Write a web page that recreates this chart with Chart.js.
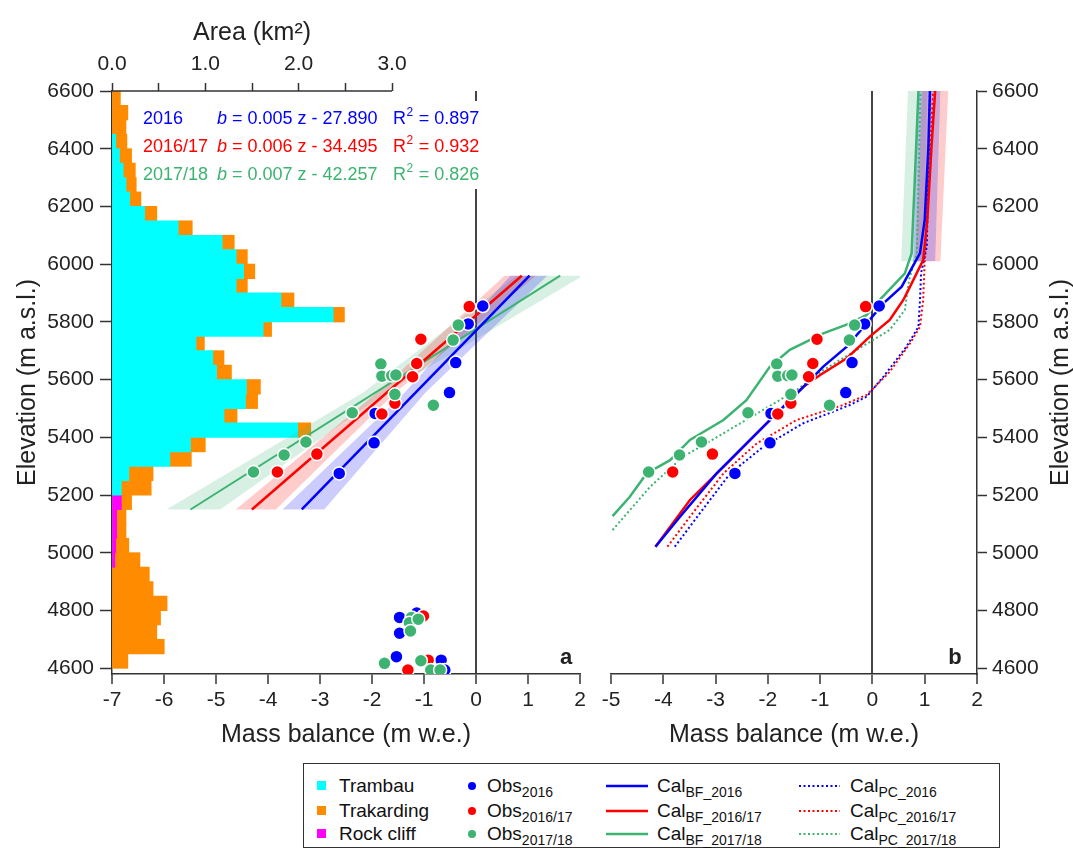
<!DOCTYPE html>
<html>
<head>
<meta charset="utf-8">
<title>Mass balance profiles</title>
<script src="https://cdn.jsdelivr.net/npm/chart.js@4.4.1/dist/chart.umd.min.js"></script>
<style>
  body { margin: 0; background: #fff; font-family: "Liberation Sans", Arial, sans-serif; }
  #wrap { position: relative; width: 1073px; height: 850px; overflow: hidden; background: #fff; }
  #panelA { position: absolute; left: 0; top: 0; }
  #panelB { position: absolute; left: 560px; top: 0; }
  #legend { position: absolute; left: 303px; top: 763px; width: 697px; height: 85px; box-sizing: border-box;
            border: 1.5px solid #333; font-size: 19px; color: #111; }
  #legend .item { position: absolute; white-space: nowrap; line-height: 22px; }
  #legend sub { font-size: 14px; vertical-align: -5px; line-height: 0; }
  #legend .mk { position: absolute; }
</style>
</head>
<body>
<div id="wrap">
  <canvas id="panelA" width="600" height="760"></canvas>
  <canvas id="panelB" width="513" height="760"></canvas>
  <div id="legend"></div>
</div>
<script>
// ---------- data ----------
const elevTicks = [4600, 4800, 5000, 5200, 5400, 5600, 5800, 6000, 6200, 6400, 6600];
const areaTicks = [0, 0.5, 1, 1.5, 2, 2.5, 3];

// 50 m elevation bins (centres), area in km2
const binMid = [6575, 6525, 6475, 6425, 6375, 6325, 6275, 6225, 6175, 6125,
                6075, 6025, 5975, 5925, 5875, 5825, 5775, 5725, 5675, 5625,
                5575, 5525, 5475, 5425, 5375, 5325, 5275, 5225, 5175, 5125,
                5075, 5025, 4975, 4925, 4875, 4825, 4775, 4725, 4675, 4625];
const trambau = [0, 0, 0, 0.04, 0.08, 0.12, 0.15, 0.19, 0.35, 0.71,
                 1.18, 1.33, 1.41, 1.33, 1.81, 2.37, 1.62, 0.90, 1.08, 1.12,
                 1.44, 1.43, 1.20, 1.99, 0.84, 0.62, 0.18, 0.10, 0, 0,
                 0, 0, 0, 0, 0, 0, 0, 0, 0, 0];
const rockCliff = [0, 0, 0, 0, 0, 0, 0, 0, 0, 0,
                   0, 0, 0, 0, 0, 0, 0, 0, 0, 0,
                   0, 0, 0, 0, 0, 0, 0, 0, 0.10, 0.05,
                   0.05, 0.04, 0.03, 0, 0, 0, 0, 0, 0, 0];
const trakarding = [0.09, 0.17, 0.15, 0.12, 0.13, 0.13, 0.11, 0.12, 0.13, 0.15,
                    0.13, 0.12, 0.12, 0.12, 0.14, 0.12, 0.09, 0.09, 0.12, 0.16,
                    0.15, 0.13, 0.14, 0.14, 0.16, 0.23, 0.26, 0.32, 0.11, 0.10,
                    0.10, 0.14, 0.27, 0.40, 0.44, 0.59, 0.52, 0.48, 0.56, 0.17];

// stake observations (mass balance, elevation)
const obsB2016 = [0.13, -0.15, -0.39, -0.51, -1.94, -1.96, -2.63, -1.47, -1.47, -1.14, -1.53, -0.67, -0.60];
const obsZ2016 = [5855, 5793, 5659, 5555, 5483, 5381, 5275, 4776, 4721, 4791, 4640, 4628, 4594];
const obsB201617 = [-0.13, -1.06, -1.14, -1.22, -1.56, -1.81, -3.06, -3.82, -1.01, -0.92, -1.31];
const obsZ201617 = [5853, 5740, 5656, 5610, 5518, 5481, 5342, 5280, 4781, 4628, 4594];
const obsB201718 = [-0.34, -0.44, -1.83, -1.81, -1.62, -1.54, -1.56, -0.82, -2.38, -3.27, -3.69, -4.28,
                    -1.24, -1.28, -1.11, -1.26, -1.76, -1.06, -0.87, -0.69];
const obsZ201718 = [5789, 5737, 5654, 5612, 5614, 5616, 5549, 5511, 5485, 5384, 5339, 5280,
                    4776, 4758, 4770, 4729, 4617, 4626, 4594, 4594];

// linear fits (panel a)
const fitYears = ['2016', '2016/17', '2017/18'];
const fitEq = ['0.005 z - 27.890', '0.006 z - 34.495', '0.007 z - 42.257'];
const fitR2 = ['0.897', '0.932', '0.826'];
const regZ = [5150, 5960];
const regB2016 = [-3.35, 1.03];
const regB201617 = [-4.31, 0.88];
const regB201718 = [-5.49, 1.62];
const bandZa = [5150, 5555, 5960];
const bandLo2016 = [-3.72, -1.37, 0.66], bandHi2016 = [-2.92, -0.97, 1.37];
const bandLo201617 = [-4.62, -1.90, 0.55], bandHi201617 = [-3.85, -1.55, 1.15];
const bandLo201718 = [-5.95, -2.17, 0.78], bandHi201718 = [-4.92, -1.73, 2.06];

// calibrated profiles (panel b)
const bfZ2016 = [5021, 5125, 5275, 5391, 5483, 5575, 5645, 5714, 5795, 5864, 5922, 6038, 6153, 6407, 6600];
const bfB2016 = [-4.15, -3.68, -2.98, -2.34, -1.83, -1.32, -0.94, -0.49, -0.11, 0.21, 0.56, 0.91, 1.00, 1.07, 1.10];
const bfZ201617 = [5021, 5183, 5321, 5449, 5575, 5616, 5674, 5749, 5807, 5841, 5876, 5922, 6014, 6153, 6407, 6600];
const bfB201617 = [-4.15, -3.49, -2.72, -2.02, -1.32, -1.00, -0.49, -0.05, 0.33, 0.46, 0.59, 0.72, 0.97, 1.05, 1.13, 1.20];
const bfZ201718 = [5127, 5194, 5275, 5321, 5391, 5460, 5529, 5645, 5703, 5760, 5795, 5824, 5876, 5968, 6038, 6292, 6600];
const bfB201718 = [-4.97, -4.64, -4.32, -3.87, -3.49, -2.85, -2.41, -1.96, -1.58, -0.94, -0.43, -0.11, 0.14, 0.62, 0.75, 0.81, 0.88];
const pcZ2016 = [5021, 5137, 5275, 5367, 5449, 5512, 5541, 5610, 5714, 5783, 5876, 5969, 6060, 6600];
const pcB2016 = [-3.78, -3.30, -2.72, -2.09, -1.32, -0.43, -0.11, 0.21, 0.65, 0.88, 0.91, 0.93, 1.04, 1.10];
const pcZ201617 = [5021, 5125, 5275, 5379, 5460, 5512, 5547, 5627, 5726, 5783, 5876, 6014, 6600];
const pcB201617 = [-3.92, -3.49, -2.85, -2.21, -1.45, -0.56, -0.11, 0.33, 0.72, 0.91, 0.97, 1.00, 1.16];
const pcZ201718 = [5079, 5229, 5333, 5414, 5495, 5564, 5633, 5703, 5772, 5841, 5945, 6040, 6600];
const pcB201718 = [-4.97, -4.25, -3.62, -2.85, -2.09, -1.45, -0.94, -0.30, 0.33, 0.62, 0.70, 0.85, 0.92];
const bandZb = [6010, 6600];
const bandBLo2016 = [0.78, 0.88], bandBHi2016 = [1.20, 1.30];
const bandBLo201617 = [0.82, 0.95], bandBHi201617 = [1.30, 1.45];
const bandBLo201718 = [0.55, 0.68], bandBHi201718 = [0.97, 1.05];

// ---------- styling ----------
const FONT = '"Liberation Sans", Arial, sans-serif';
const BLUE = '#0000FF', RED = '#FF0000', GREEN = '#3CB371';
const yearColors = [BLUE, RED, GREEN];
const histLabels = ['Trambau', 'Trakarding', 'Rock cliff'];
const histColors = ['#00FFFF', '#FF8C00', '#FF00FF'];

Chart.defaults.font.family = FONT;
Chart.defaults.color = '#222';

function pairs(bs, zs) {
  return zs.map((z, i) => ({ x: bs[i], y: z }));
}
function shape(zs, lo, hi) {
  const pts = zs.map((z, i) => ({ x: lo[i], y: z }));
  for (let i = zs.length - 1; i >= 0; i--) pts.push({ x: hi[i], y: zs[i] });
  return pts;
}
function obsSet(label, color, bs, zs, zMin) {
  return {
    type: 'scatter', label: label,
    data: pairs(bs, zs).filter(p => p.y > zMin),
    pointBackgroundColor: color, pointBorderColor: '#fff',
    pointRadius: 6.5, pointBorderWidth: 1.5
  };
}
function lineSet(label, color, data, dash, width) {
  return {
    type: 'line', label: label, data: data,
    borderColor: color, borderWidth: width || 2.5, borderDash: dash || [],
    pointRadius: 0, fill: false, tension: 0
  };
}
function bandSet(color, data) {
  return {
    type: 'line', data: data, fill: 'shape', backgroundColor: color,
    borderColor: 'rgba(0,0,0,0)', borderWidth: 0, pointRadius: 0, tension: 0
  };
}
// one 50 m bin is 583 px / 2020 m * 50 m high on the elevation axis
const BIN_PX = 583 / 2020 * 50;
function histSet(i, values) {
  return {
    type: 'bar', label: histLabels[i], indexAxis: 'y', xAxisID: 'xa', yAxisID: 'y', stack: 'hist',
    data: binMid.map((z, k) => ({ x: values[k], y: z })).filter(p => p.x > 0),
    backgroundColor: histColors[i], borderWidth: 0,
    grouped: false, barThickness: BIN_PX + 0.2
  };
}

function elevAxis(position, width, withTitle) {
  return {
    type: 'linear', position: position, min: 4580, max: 6600, offset: false,
    afterBuildTicks: s => { s.ticks = elevTicks.map(v => ({ value: v })); },
    ticks: { callback: v => String(v), font: { size: 21 }, padding: position === 'left' ? 6 : 5, autoSkip: false, color: '#222' },
    grid: { drawOnChartArea: false, offset: false, tickColor: '#333', tickLength: position === 'left' ? 12 : 10, tickWidth: 1.5 },
    border: { display: true, color: '#333', width: 1.5 },
    title: { display: withTitle, text: 'Elevation (m a.s.l.)', font: { size: 25 }, color: '#222', padding: { top: 13, bottom: 0 } },
    afterFit: s => { s.width = width; }
  };
}
function massAxis(min, max) {
  return {
    type: 'linear', position: 'bottom', min: min, max: max,
    ticks: { stepSize: 1, font: { size: 21 }, padding: 4, color: '#222', maxRotation: 0, autoSkip: false },
    grid: {
      color: c => (c.tick && c.tick.value === 0) ? '#444' : 'rgba(0,0,0,0)',
      lineWidth: 2, tickColor: '#333', tickLength: 10, tickWidth: 1.5
    },
    border: { display: true, color: '#333', width: 1.5 },
    title: { display: true, text: 'Mass balance (m w.e.)', font: { size: 25 }, color: '#222', padding: { top: 0, bottom: 10 } },
    afterFit: s => { s.height = 86; }
  };
}

// ---------- panel a ----------
const panelAExtras = {
  id: 'panelAExtras',
  afterDatasetsDraw(chart) {
    const ctx = chart.ctx;
    ctx.save();
    ctx.fillStyle = '#fff';
    ctx.fillRect(138, 101, 344, 88);
    ctx.textBaseline = 'middle';
    ctx.textAlign = 'left';
    fitYears.forEach((yr, i) => {
      const y = 119 + i * 28;
      ctx.fillStyle = yearColors[i];
      ctx.font = '18px ' + FONT;
      ctx.fillText(yr, 143, y);
      ctx.font = 'italic 18px ' + FONT;
      ctx.fillText('b', 217, y);
      let w = ctx.measureText('b').width;
      ctx.font = '18px ' + FONT;
      ctx.fillText(' = ' + fitEq[i], 217 + w, y);
      ctx.fillText('R', 393, y);
      w = ctx.measureText('R').width;
      ctx.font = '12px ' + FONT;
      ctx.fillText('2', 393 + w + 0.5, y - 6);
      const w2 = ctx.measureText('2').width;
      ctx.font = '18px ' + FONT;
      ctx.fillText(' = ' + fitR2[i], 393 + w + w2 + 1, y);
    });
    ctx.restore();
  },
  afterDraw(chart) {
    const ctx = chart.ctx;
    const xa = chart.scales.xa;
    const top = chart.chartArea.top;
    ctx.save();
    ctx.strokeStyle = '#333';
    ctx.lineWidth = 1.5;
    ctx.beginPath();
    ctx.moveTo(xa.getPixelForValue(0), top);
    ctx.lineTo(xa.getPixelForValue(3), top);
    ctx.stroke();
    ctx.fillStyle = '#222';
    ctx.textAlign = 'center';
    ctx.textBaseline = 'middle';
    ctx.font = '25px ' + FONT;
    ctx.fillText('Area (km²)', xa.getPixelForValue(1.5), 33);
    ctx.font = 'bold 22px ' + FONT;
    ctx.fillText('a', chart.chartArea.right - 14, 658);
    ctx.restore();
  }
};

new Chart(document.getElementById('panelA'), {
  type: 'scatter',
  data: {
    datasets: [
      obsSet('Obs 2017/18', GREEN, obsB201718, obsZ201718, 0),
      obsSet('Obs 2016/17', RED, obsB201617, obsZ201617, 0),
      obsSet('Obs 2016', BLUE, obsB2016, obsZ2016, 0),
      lineSet('Fit 2016', BLUE, pairs(regB2016, regZ)),
      lineSet('Fit 2016/17', RED, pairs(regB201617, regZ)),
      lineSet('Fit 2017/18', GREEN, pairs(regB201718, regZ), null, 2),
      bandSet('rgba(0,0,255,0.2)', shape(bandZa, bandLo2016, bandHi2016)),
      bandSet('rgba(255,0,0,0.2)', shape(bandZa, bandLo201617, bandHi201617)),
      bandSet('rgba(60,179,113,0.2)', shape(bandZa, bandLo201718, bandHi201718)),
      histSet(0, trambau),
      histSet(2, rockCliff),
      histSet(1, trakarding)
    ]
  },
  options: {
    responsive: false,
    animation: false,
    devicePixelRatio: 1,
    events: [],
    layout: { padding: { left: 0, right: 20, top: 0, bottom: 0 } },
    plugins: { legend: { display: false }, tooltip: { enabled: false } },
    scales: {
      x: massAxis(-7, 2),
      xa: {
        type: 'linear', axis: 'x', position: 'top', min: 0, max: 5.014,
        afterBuildTicks: s => { s.ticks = areaTicks.map(v => ({ value: v })); },
        ticks: { callback: v => Number.isInteger(v) ? v.toFixed(1) : '', font: { size: 21 }, padding: 6, autoSkip: false, maxRotation: 0, color: '#222' },
        grid: { drawOnChartArea: false, tickColor: '#333', tickLength: 8, tickWidth: 1.5 },
        border: { display: false },
        afterFit: s => { s.height = 91; }
      },
      y: elevAxis('left', 112, true)
    }
  },
  plugins: [panelAExtras]
});

// ---------- panel b ----------
const panelBExtras = {
  id: 'panelBExtras',
  afterDraw(chart) {
    const ctx = chart.ctx;
    const area = chart.chartArea;
    ctx.save();
    ctx.fillStyle = '#222';
    ctx.textAlign = 'center';
    ctx.textBaseline = 'middle';
    ctx.font = 'bold 22px ' + FONT;
    ctx.fillText('b', area.right - 22, 658);
    ctx.translate(501, (area.top + area.bottom) / 2);
    ctx.rotate(-Math.PI / 2);
    ctx.font = '25px ' + FONT;
    ctx.fillText('Elevation (m a.s.l.)', 0, 0);
    ctx.restore();
  }
};

new Chart(document.getElementById('panelB'), {
  type: 'scatter',
  data: {
    datasets: [
      obsSet('Obs 2017/18', GREEN, obsB201718, obsZ201718, 5200),
      obsSet('Obs 2016/17', RED, obsB201617, obsZ201617, 5200),
      obsSet('Obs 2016', BLUE, obsB2016, obsZ2016, 5200),
      lineSet('Cal BF 2016', BLUE, pairs(bfB2016, bfZ2016)),
      lineSet('Cal BF 2016/17', RED, pairs(bfB201617, bfZ201617)),
      lineSet('Cal BF 2017/18', GREEN, pairs(bfB201718, bfZ201718)),
      lineSet('Cal PC 2016', BLUE, pairs(pcB2016, pcZ2016), [2, 2.5], 2),
      lineSet('Cal PC 2016/17', RED, pairs(pcB201617, pcZ201617), [2, 2.5], 2),
      lineSet('Cal PC 2017/18', GREEN, pairs(pcB201718, pcZ201718), [2, 2.5], 2),
      bandSet('rgba(0,0,255,0.2)', shape(bandZb, bandBLo2016, bandBHi2016)),
      bandSet('rgba(255,0,0,0.2)', shape(bandZb, bandBLo201617, bandBHi201617)),
      bandSet('rgba(60,179,113,0.2)', shape(bandZb, bandBLo201718, bandBHi201718))
    ]
  },
  options: {
    responsive: false,
    animation: false,
    devicePixelRatio: 1,
    events: [],
    layout: { padding: { left: 51, right: 0, top: 91, bottom: 0 } },
    plugins: { legend: { display: false }, tooltip: { enabled: false } },
    scales: {
      x: massAxis(-5, 2),
      y: elevAxis('right', 96, false)
    }
  },
  plugins: [panelBExtras]
});

// ---------- legend ----------
const legend = document.getElementById('legend');
const rowY = [21.5, 46.5, 69.5];
const suffix = ['2016', '2016/17', '2017/18'];
let html = '';
rowY.forEach((y, r) => {
  html += `<div class="mk" style="left:13px;top:${y - 4.5}px;width:9px;height:9px;background:${histColors[r]}"></div>`;
  html += `<div class="item" style="left:35px;top:${y - 11}px">${histLabels[r]}</div>`;
  html += `<div class="mk" style="left:164px;top:${y - 4}px;width:8px;height:8px;border-radius:50%;background:${yearColors[r]}"></div>`;
  html += `<div class="item" style="left:183px;top:${y - 11}px">Obs<sub>${suffix[r]}</sub></div>`;
  html += `<svg class="mk" style="left:302px;top:${y - 3}px" width="42" height="6"><line x1="0" y1="3" x2="42" y2="3" stroke="${yearColors[r]}" stroke-width="2.5"/></svg>`;
  html += `<div class="item" style="left:353px;top:${y - 11}px">Cal<sub>BF_${suffix[r]}</sub></div>`;
  html += `<svg class="mk" style="left:495px;top:${y - 3}px" width="41" height="6"><line x1="0" y1="3" x2="41" y2="3" stroke="${yearColors[r]}" stroke-width="2" stroke-dasharray="2,2.5"/></svg>`;
  html += `<div class="item" style="left:546px;top:${y - 11}px">Cal<sub>PC_${suffix[r]}</sub></div>`;
});
legend.innerHTML = html;
</script>
</body>
</html>
